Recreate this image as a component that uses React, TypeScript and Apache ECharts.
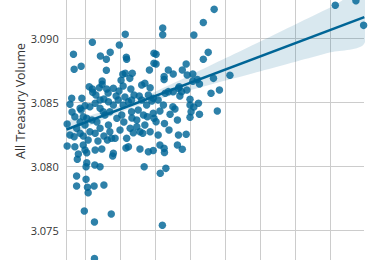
import React, { useEffect, useRef } from "react";
import * as echarts from "echarts";

// Scatter observations (x in arbitrary plot units, y = All Treasury Volume)
const pointsX = [
  2.13, 1.19, 1.96, 0.65, 1.70, 1.42, 1.59, 2.16, 2.17, 0.67, 0.87, 1.59, 2.06, 2.13, 2.33, 2.26, 2.01, 1.47, 1.47, 2.07,
  1.10, 1.19, 1.60, 2.60, 2.69, 2.84, 2.29, 3.20, 3.20, 4.09, 2.95, 3.01, 2.95, 3.01, 2.82, 3.24, 3.24, 3.36, 3.50, 3.76,
  3.87, 3.90, 4.06, 4.19, 4.06, 4.25, 3.67, 4.65, 5.12, 4.58, 4.82, 4.36, 4.67, 4.50, 4.36, 3.98, 3.98, 4.01, 3.98, 4.25,
  4.76, 8.13, 8.72, 8.94, 0.60, 0.89, 0.55, 1.20, 1.29, 1.39, 1.64, 1.79, 1.95, 2.38, 0.69, 0.84, 0.98, 1.12, 1.27, 1.41,
  1.50, 1.65, 1.79, 1.93, 2.07, 2.22, 2.31, 2.50, 2.60, 2.74, 2.89, 0.74, 0.55, 0.98, 1.12, 1.27, 1.41, 1.65, 1.69, 1.84,
  2.27, 2.46, 2.55, 2.84, 0.69, 0.93, 0.98, 1.27, 1.46, 1.79, 2.17, 2.22, 2.55, 2.79, 1.55, 1.69, 1.89, 2.03, 2.46, 2.65,
  2.76, 2.93, 0.93, 1.03, 0.47, 2.93, 3.07, 3.27, 3.36, 3.50, 3.65, 3.74, 3.22, 3.12, 3.49, 3.55, 3.41, 2.95, 3.01, 3.25,
  3.62, 3.65, 3.87, 3.12, 2.93, 3.25, 3.62, 3.76, 0.47, 0.67, 0.84, 0.93, 0.79, 0.76, 1.03, 1.26, 1.41, 1.03, 1.01, 0.74,
  0.74, 1.01, 1.05, 1.07, 1.24, 1.52, 0.96, 1.25, 1.73, 1.25, 1.62, 1.74, 1.77, 2.15, 2.67, 3.24, 3.13, 3.29, 3.19, 2.36,
  2.63, 1.41, 1.52, 1.87, 2.12, 2.31, 2.53, 2.79, 3.69, 3.89, 4.09, 4.22, 0.87, 1.18, 1.32, 0.84, 1.52, 1.98, 2.09, 0.61,
  1.07, 1.35, 2.32, 2.69, 3.07, 3.38,
];
const pointsY = [
  3.09031, 3.08969, 3.08947, 3.08875, 3.0889, 3.08862, 3.08836, 3.08851, 3.08836, 3.08758, 3.08781, 3.0875, 3.08719, 3.08726, 3.08726, 3.08687, 3.08672, 3.08666, 3.0864, 3.08627,
  3.08622, 3.08604, 3.08604, 3.08635, 3.08648, 3.08614, 3.08604, 3.0908, 3.09028, 3.09026, 3.08883, 3.08875, 3.08805, 3.08799, 3.08752, 3.08701, 3.08678, 3.08752, 3.08721, 3.08752,
  3.08799, 3.08713, 3.08721, 3.08678, 3.08665, 3.08643, 3.08622, 3.08687, 3.08711, 3.0857, 3.08596, 3.09123, 3.09226, 3.0889, 3.08836, 3.08523, 3.08479, 3.08426, 3.08383, 3.08406,
  3.08432, 3.09258, 3.09294, 3.09101, 3.08531, 3.08531, 3.08484, 3.08578, 3.08557, 3.08614, 3.08572, 3.08609, 3.08588, 3.08557, 3.08387, 3.08453, 3.08473, 3.08465, 3.08492, 3.08453,
  3.08426, 3.08504, 3.08479, 3.08518, 3.08479, 3.08504, 3.08426, 3.0844, 3.08518, 3.08479, 3.0851, 3.08297, 3.08244, 3.08322, 3.0827, 3.08258, 3.08297, 3.08322, 3.0827, 3.08219,
  3.08297, 3.08309, 3.0827, 3.0827, 3.08153, 3.08166, 3.08127, 3.08127, 3.08135, 3.08101, 3.08219, 3.08153, 3.08135, 3.08114, 3.08401, 3.08426, 3.08375, 3.08401, 3.08362, 3.08401,
  3.08387, 3.08414, 3.08387, 3.08375, 3.0833, 3.08531, 3.08518, 3.0857, 3.08583, 3.08583, 3.08609, 3.08583, 3.08479, 3.08432, 3.08465, 3.08447, 3.08406, 3.08375, 3.08348, 3.08334,
  3.08362, 3.08244, 3.0825, 3.08166, 3.08123, 3.08108, 3.08166, 3.08133, 3.08158, 3.08231, 3.08258, 3.08237, 3.08096, 3.08055, 3.08106, 3.0801, 3.07997, 3.08028, 3.07997, 3.07924,
  3.07846, 3.07898, 3.07836, 3.07794, 3.07846, 3.07854, 3.07651, 3.07565, 3.07627, 3.0728, 3.08205, 3.08219, 3.0808, 3.08143, 3.07997, 3.0814, 3.07945, 3.07984, 3.07539, 3.08262,
  3.08258, 3.08518, 3.08526, 3.08549, 3.08541, 3.08518, 3.08549, 3.08557, 3.08549, 3.08596, 3.08463, 3.08492, 3.0844, 3.08362, 3.08346, 3.08346, 3.08237, 3.08283, 3.08346, 3.08424,
  3.08205, 3.08197, 3.08377, 3.08322, 3.08244, 3.08283,
];

// Regression fit and its confidence band
const lineX = [0.45, 8.96];
const lineY = [3.08288, 3.09165];
const bandX = [0.45, 1, 1.5, 2, 2.5, 3, 3.5, 4, 5, 6, 7, 8, 8.96];
const bandLower = [3.0823, 3.08302, 3.08364, 3.08424, 3.08475, 3.08518, 3.08557, 3.08595, 3.0867, 3.08743, 3.08817, 3.0889, 3.0896];
const bandUpper = [3.08346, 3.08388, 3.08428, 3.08472, 3.08525, 3.08585, 3.08648, 3.08713, 3.08845, 3.08977, 3.0911, 3.09242, 3.0937];

// Visible axis extents
const xMin = 0.457;
const xMax = 8.951;
const yMin = 3.07268;
const yMax = 3.09299;

const yTitle = "All Treasury Volume";

export default function App() {
  const ref = useRef<HTMLDivElement>(null);
  useEffect(() => {
    if (!ref.current) return;
    const chart = echarts.init(ref.current, null, { renderer: "svg" });
    const base = "#006596";
    chart.setOption({
      animation: false,
      backgroundColor: "#ffffff",
      grid: { left: 66.7, top: 0, width: 297.3, height: 260, outerBoundsMode: "none", containLabel: false },
      xAxis: {
        type: "value",
        min: xMin,
        max: xMax,
        splitNumber: 8,
        axisLine: { show: false },
        axisTick: { show: false },
        axisLabel: { show: false },
        splitLine: { show: true, showMinLine: false, showMaxLine: false, lineStyle: { color: "#cccccc", width: 1 } },
      },
      yAxis: {
        type: "value",
        min: yMin,
        max: yMax,
        splitNumber: 4,
        axisLine: { show: true, lineStyle: { color: "#cccccc", width: 1 } },
        axisTick: { show: false },
        axisLabel: {
          margin: 8,
          color: "#333333",
          fontSize: 11,
          fontFamily: "Open Sans",
          showMinLabel: false,
          showMaxLabel: false,
          formatter: (v: number) => v.toFixed(3),
        },
        splitLine: { show: true, showMinLine: false, showMaxLine: false, lineStyle: { color: "#cccccc", width: 1 } },
      },
      graphic: [
        {
          type: "text",
          x: 20,
          y: 101,
          rotation: Math.PI / 2,
          style: {
            text: yTitle,
            font: "12.5px 'Open Sans'",
            fill: "#333333",
            textAlign: "center",
            textVerticalAlign: "middle",
          },
        },
      ],
      series: [
        {
          type: "scatter",
          data: pointsX.map((x, i) => [x, pointsY[i]]),
          symbolSize: 7.5,
          itemStyle: { color: base, opacity: 0.82 },
          clip: true,
        },
        {
          type: "custom",
          data: [[bandX[0], bandLower[0]]],
          clip: true,
          silent: true,
          renderItem: (_params: any, api: any) => {
            const upper = bandX.map((x, i) => api.coord([x, bandUpper[i]]));
            const lower = bandX.map((x, i) => api.coord([x, bandLower[i]])).reverse();
            return {
              type: "polygon",
              shape: { points: upper.concat(lower), smooth: 0.3 },
              style: { fill: base, opacity: 0.15 },
            };
          },
        },
        {
          type: "line",
          data: lineX.map((x, i) => [x, lineY[i]]),
          symbol: "none",
          lineStyle: { color: base, width: 2.6 },
          silent: true,
        },
      ],
    });
    return () => chart.dispose();
  }, []);
  return <div ref={ref} style={{ position: "fixed", left: 0, top: 0, width: 391, height: 260 }} />;
}
